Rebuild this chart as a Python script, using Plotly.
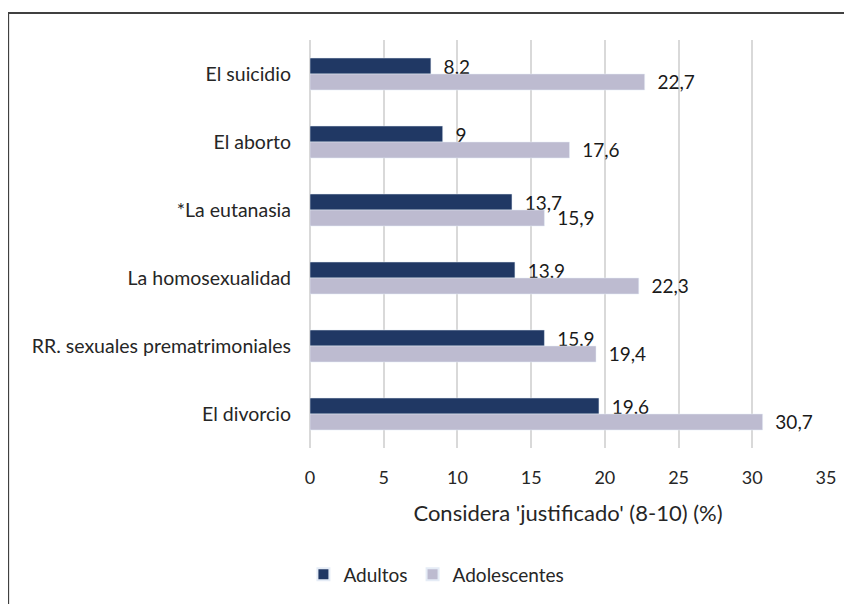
import plotly.graph_objects as go

categories = ["El suicidio", "El aborto", "*La eutanasia", "La homosexualidad",
              "RR. sexuales prematrimoniales", "El divorcio"]
adultos = [8.2, 9, 13.7, 13.9, 15.9, 19.6]
adolescentes = [22.7, 17.6, 15.9, 22.3, 19.4, 30.7]
x_ticks = [0, 5, 10, 15, 20, 25, 30, 35]


def fmt(v):
    # comma decimal, small lead-in gap like the original labels
    return "  " + f"{v:g}".replace(".", ",")


fig = go.Figure()
fig.add_trace(go.Bar(
    y=categories, x=adultos, orientation="h", name="Adultos",
    marker=dict(color="#203864"),
    text=[fmt(v) for v in adultos], textposition="outside",
    constraintext="none", cliponaxis=False,
    textfont=dict(size=19, color="#1a1a1a")
))
fig.add_trace(go.Bar(
    y=categories, x=adolescentes, orientation="h", name="Adolescentes",
    marker=dict(color="#bdbbd0"),
    text=[fmt(v) for v in adolescentes], textposition="outside",
    constraintext="none", cliponaxis=False,
    textfont=dict(size=19, color="#1a1a1a")
))

fig.update_layout(
    width=852, height=604,
    margin=dict(l=302, r=34, t=32, b=164),
    barmode="group", bargap=0.53, bargroupgap=0,
    paper_bgcolor="white", plot_bgcolor="white",
    font=dict(family="Lato, Noto Sans, sans-serif", size=19, color="#262626"),
    showlegend=True,
    legend=dict(orientation="h", x=0.245, xanchor="center", y=-0.31, yanchor="middle",
                font=dict(size=19), traceorder="normal", itemsizing="constant"),
    shapes=[dict(type="rect", xref="paper", yref="paper",
                 x0=-0.585, x1=2, y0=-2, y1=1.066,
                 line=dict(color="#404040", width=2))],
)
fig.update_xaxes(range=[0, 35], tickvals=x_ticks, showgrid=True,
                 gridcolor="#d9d9d9", gridwidth=1.5, zeroline=True,
                 zerolinecolor="#d9d9d9", zerolinewidth=1.5,
                 ticks="", ticklabelstandoff=17, tickfont=dict(size=18),
                 title_text="Considera 'justificado' (8-10) (%)",
                 title_standoff=18, title_font=dict(size=22, color="#262626"))
fig.update_yaxes(autorange="reversed", ticks="", ticklabelstandoff=18,
                 tickfont=dict(size=19.5), showgrid=False)

fig.write_html("out.html")
